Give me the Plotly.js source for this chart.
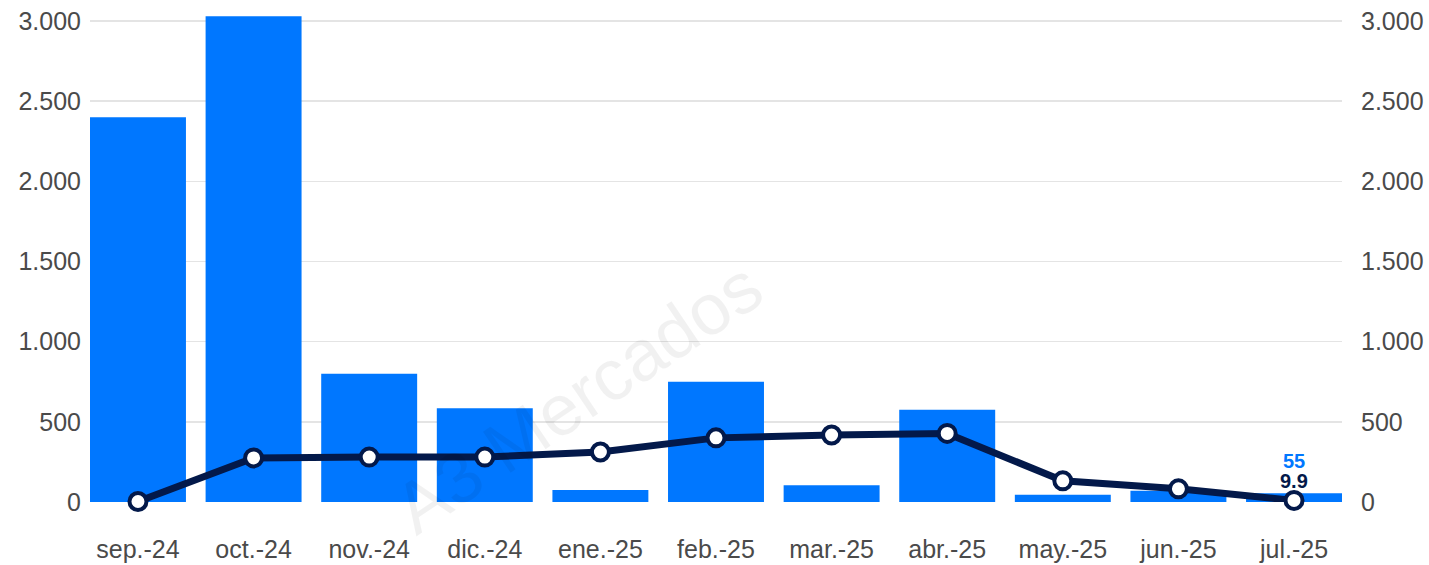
<!DOCTYPE html>
<html>
<head>
<meta charset="utf-8">
<script src="https://cdn.plot.ly/plotly-3.0.1.min.js"></script>
<style>
  html, body { margin: 0; padding: 0; background: #fff; }
  #chart { width: 1429px; height: 565px; }
</style>
</head>
<body>
<div id="chart"></div>
<script>
var months = ['sep.-24', 'oct.-24', 'nov.-24', 'dic.-24', 'ene.-25', 'feb.-25',
  'mar.-25', 'abr.-25', 'may.-25', 'jun.-25', 'jul.-25'];

var barVals = [2400, 3030, 800, 585, 75, 750, 105, 575, 45, 70, 55];

var lineVals = [3, 275, 280, 280, 312, 400, 418, 428, 132, 82, 9.9];

var yTicks = [0, 500, 1000, 1500, 2000, 2500, 3000];

var barColor = '#0077ff';
var lineColor = '#03194a';
var fontFam = 'Arial, "Liberation Sans", sans-serif';
var tickFont = { family: fontFam, size: 25, color: '#4a4a4a' };

var last = months.length - 1;

var data = [
  {
    x: months,
    y: barVals,
    type: 'bar',
    marker: { color: barColor },
    yaxis: 'y'
  },
  {
    x: months,
    y: lineVals,
    type: 'scatter',
    mode: 'lines+markers',
    line: { color: lineColor, width: 7 },
    marker: { color: '#ffffff', size: 17, line: { color: lineColor, width: 4 } },
    yaxis: 'y2',
    cliponaxis: false
  }
];

var layout = {
  width: 1429,
  height: 565,
  showlegend: false,
  separators: ',.',
  paper_bgcolor: '#ffffff',
  plot_bgcolor: '#ffffff',
  margin: { l: 90, r: 87, t: 10, b: 63 },
  bargap: 0.17,
  xaxis: {
    type: 'category',
    range: [-0.415, 10.415],
    showgrid: false,
    zeroline: false,
    showline: false,
    ticks: '',
    tickfont: tickFont,
    ticklabelstandoff: 30
  },
  yaxis: {
    range: [0, 3069],
    tickvals: yTicks,
    tickformat: ',',
    showgrid: true,
    gridcolor: '#e4e4e4',
    gridwidth: 1.5,
    zeroline: false,
    showline: false,
    tickfont: tickFont,
    ticklabelstandoff: 8
  },
  yaxis2: {
    overlaying: 'y',
    side: 'right',
    range: [0, 3069],
    tickvals: yTicks,
    tickformat: ',',
    showgrid: false,
    zeroline: false,
    showline: false,
    tickfont: tickFont,
    ticklabelstandoff: 18
  },
  annotations: [
    {
      x: months[last],
      y: barVals[last],
      xref: 'x',
      yref: 'y',
      text: '<b>' + barVals[last] + '</b>',
      showarrow: false,
      yanchor: 'bottom',
      yshift: 20,
      borderpad: 0,
      font: { family: fontFam, size: 20, color: barColor }
    },
    {
      x: months[last],
      y: lineVals[last],
      xref: 'x',
      yref: 'y2',
      text: '<b>' + lineVals[last] + '</b>',
      showarrow: false,
      yanchor: 'bottom',
      yshift: 7,
      borderpad: 0,
      font: { family: fontFam, size: 20, color: lineColor }
    },
    {
      xref: 'paper',
      yref: 'paper',
      x: 0.39,
      y: 0.213,
      xanchor: 'center',
      yanchor: 'middle',
      text: 'A3 Mercados',
      showarrow: false,
      textangle: -34,
      font: { family: fontFam, size: 72, color: 'rgba(0,0,0,0.055)' }
    }
  ]
};

Plotly.newPlot('chart', data, layout, { displayModeBar: false, staticPlot: true });
</script>
</body>
</html>
